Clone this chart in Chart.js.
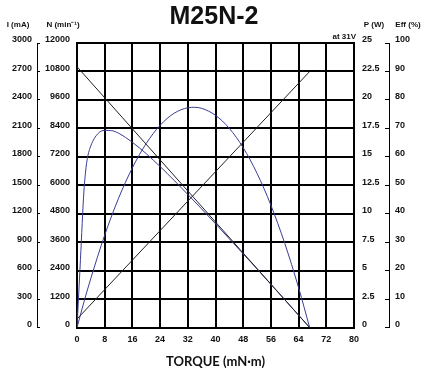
<!DOCTYPE html>
<html>
<head>
<meta charset="utf-8">
<script src="https://cdn.jsdelivr.net/npm/chart.js@4"></script>
<style>
  body { margin: 0; background: #fff; }
</style>
</head>
<body>
<canvas id="motorChart" width="428" height="373"></canvas>
<script>
// values (at 31V)
const speedTorque = [0, 67.2];
const speedRpm = [11000, 0];

const currentTorque = [0, 67.2];
const currentMA = [90, 2700];

const powerTorque = [0, 2, 4, 8, 12, 16, 20, 24, 28, 32, 34, 36, 40, 44, 48, 52, 56, 60, 64, 67.2];
const powerW = [0, 2.24, 4.33, 8.12, 11.36, 14.04, 16.18, 17.77, 18.82, 19.31, 19.35, 19.26, 18.65, 17.5, 15.8, 13.55, 10.75, 7.4, 3.51, 0];

const effTorque = [0, 1, 2, 2.5, 3, 4, 6, 8, 10, 12, 16, 20, 24, 28, 32, 36, 40, 44, 48, 52, 56, 60, 64, 67.2];
const effPct = [0, 24, 48, 55, 59.5, 63.9, 68.1, 69.3, 69.2, 68.3, 65.1, 61.1, 56.6, 51.8, 46.8, 41.7, 36.5, 31.2, 25.9, 20.6, 15.2, 9.8, 4.35, 0];

const torqueTicks = { min: 0, max: 80, step: 8 };
const currentTicks = { min: 0, max: 3000, step: 300 };
const speedTicks = { min: 0, max: 12000, step: 1200 };
const powerTicks = { min: 0, max: 25, step: 2.5 };
const effTicks = { min: 0, max: 100, step: 10 };

function pairs(xs, ys) {
  return xs.map(function (x, i) { return { x: x, y: ys[i] }; });
}

const blue = '#3a3d96';
const ink = '#111';
const tickFont = { family: 'Liberation Sans', size: 9, weight: 'bold' };

// header texts above the axes
const headers = {
  id: 'headers',
  afterDraw(chart) {
    const c = chart.ctx;
    const area = chart.chartArea;
    c.save();
    c.fillStyle = ink;
    c.font = 'bold 8px "Liberation Sans"';
    c.textBaseline = 'middle';
    c.textAlign = 'center';
    c.fillText('I (mA)', 18, 25);
    c.fillText('N (min\u207B\u00B9)', 63, 25);
    c.fillText('P (W)', 374, 25);
    c.fillText('Eff (%)', 408, 25);
    c.textAlign = 'right';
    c.fillText('at 31V', area.right + 2, 37);
    c.restore();
  }
};

const ctx = document.getElementById('motorChart');

new Chart(ctx, {
  type: 'line',
  data: {
    datasets: [
      {
        label: 'N',
        data: pairs(speedTorque, speedRpm),
        yAxisID: 'yN',
        borderColor: '#222',
        borderWidth: 1,
      },
      {
        label: 'I',
        data: pairs(currentTorque, currentMA),
        yAxisID: 'yI',
        borderColor: '#222',
        borderWidth: 1,
      },
      {
        label: 'P',
        data: pairs(powerTorque, powerW),
        yAxisID: 'yP',
        borderColor: blue,
        borderWidth: 1,
        cubicInterpolationMode: 'monotone',
      },
      {
        label: 'Eff',
        data: pairs(effTorque, effPct),
        yAxisID: 'yEff',
        borderColor: blue,
        borderWidth: 1,
        cubicInterpolationMode: 'monotone',
      },
    ],
  },
  options: {
    responsive: false,
    animation: false,
    devicePixelRatio: 1,
    elements: { point: { radius: 0 } },
    layout: { padding: { left: 0, right: 0, top: 0, bottom: 3 } },
    plugins: {
      legend: { display: false },
      tooltip: { enabled: false },
      title: {
        display: true,
        text: 'M25N-2',
        color: ink,
        font: { family: 'Liberation Sans', size: 25, weight: 'bold' },
        padding: { top: 2, bottom: 11 },
      },
    },
    scales: {
      x: {
        type: 'linear',
        min: torqueTicks.min,
        max: torqueTicks.max,
        ticks: { stepSize: torqueTicks.step, color: ink, font: tickFont, padding: 7 },
        grid: { color: '#000', lineWidth: 2, drawTicks: false },
        border: { color: '#000', width: 2 },
        title: {
          display: true,
          text: 'TORQUE (mN\u00B7m)',
          color: ink,
          font: { family: 'Lato', size: 13, weight: 'bold' },
          padding: { top: 2, bottom: 0 },
        },
      },
      yI: {
        position: 'left',
        weight: 2,
        min: currentTicks.min,
        max: currentTicks.max,
        ticks: {
          stepSize: currentTicks.step, color: ink, font: tickFont, padding: 8, labelOffset: -3,
          callback: function (v) { return String(v); },
        },
        grid: { drawOnChartArea: false, color: '#000', lineWidth: 1, tickLength: -3 },
        border: { display: true, color: '#000', width: 1 },
        afterFit: function (axis) { axis.width = 37; },
      },
      yN: {
        position: 'left',
        weight: 1,
        min: speedTicks.min,
        max: speedTicks.max,
        ticks: {
          stepSize: speedTicks.step, color: ink, font: tickFont, padding: 7, labelOffset: -3,
          callback: function (v) { return String(v); },
        },
        grid: { color: '#000', lineWidth: 2, drawTicks: false },
        border: { display: true, color: '#000', width: 2 },
        afterFit: function (axis) { axis.width = 40; },
      },
      yP: {
        position: 'right',
        weight: 1,
        min: powerTicks.min,
        max: powerTicks.max,
        ticks: { stepSize: powerTicks.step, color: ink, font: tickFont, padding: 8, labelOffset: -3 },
        grid: { drawOnChartArea: false, drawTicks: false },
        border: { display: true, color: '#000', width: 2 },
        afterFit: function (axis) { axis.width = 35; },
      },
      yEff: {
        position: 'right',
        weight: 2,
        min: effTicks.min,
        max: effTicks.max,
        ticks: { stepSize: effTicks.step, color: ink, font: tickFont, padding: 10, labelOffset: -3 },
        grid: { drawOnChartArea: false, color: '#000', lineWidth: 1, tickLength: -4 },
        border: { display: true, color: '#000', width: 1 },
        afterFit: function (axis) { axis.width = 39; },
      },
    },
  },
  plugins: [headers],
});
</script>
</body>
</html>
